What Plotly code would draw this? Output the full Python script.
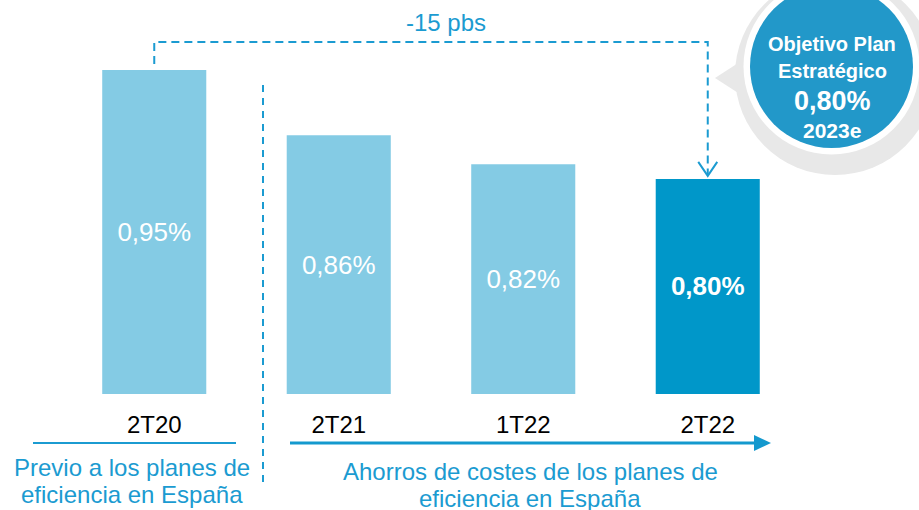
import plotly.graph_objects as go

# ---- data ----
categories = ["2T20", "2T21", "1T22", "2T22"]
values = [0.95, 0.86, 0.82, 0.80]
bar_colors = ["#84CBE4", "#84CBE4", "#84CBE4", "#0097C9"]
change_label = "-15 pbs"
group_left = ["Previo a los planes de", "eficiencia en España"]
group_right = ["Ahorros de costes de los planes de", "eficiencia en España"]
target_lines = ["Objetivo Plan", "Estratégico", "0,80%", "2023e"]

BASE = 0.504
W, H = 919, 510
ML, MR, MT, MB = 62, 119, 10, 116
PW, PH = W - ML - MR, H - MT - MB
Y_TOP = BASE + PH / 726.7

FONT = "Liberation Sans, Arial, sans-serif"
BLUE = "#1B9BD1"


def px(x):
    return (x - ML) / PW


def py(y):
    return (H - MB - y) / PH


def cat_paper(i):
    return (i + 0.5) / len(categories)


def val_paper(v):
    return (v - BASE) / (Y_TOP - BASE)


labels = []
for i, v in enumerate(values):
    s = f"{v:.2f}".replace(".", ",") + "%"
    labels.append(f"<b>{s}</b>" if i == len(values) - 1 else s)

fig = go.Figure()
fig.add_trace(go.Bar(
    x=list(range(len(categories))),
    y=[v - BASE for v in values],
    base=BASE,
    width=0.564,
    marker=dict(color=bar_colors, line=dict(width=0)),
    text=labels,
    textposition="inside",
    insidetextanchor="middle",
    textangle=0,
    textfont=dict(color="white", size=26, family=FONT),
    hoverinfo="skip",
))

shapes = []
# dashed connector from first bar to last bar
x0p, x3p = cat_paper(0), cat_paper(3)
y_line = py(42)
shapes.append(dict(
    type="path", xref="paper", yref="paper",
    path=f"M {x0p},{val_paper(values[0]) + 6 / PH} L {x0p},{y_line} L {x3p},{y_line} L {x3p},{val_paper(values[3]) + 4 / PH}",
    line=dict(color=BLUE, width=2, dash="8px,5px"),
))
# open arrowhead
tip = val_paper(values[3]) + 3 / PH
shapes.append(dict(
    type="path", xref="paper", yref="paper",
    path=f"M {x3p - 9.5 / PW},{tip + 14 / PH} L {x3p},{tip} L {x3p + 9.5 / PW},{tip + 14 / PH}",
    line=dict(color=BLUE, width=2),
))
# vertical separator
shapes.append(dict(
    type="line", xref="paper", yref="paper",
    x0=px(263), x1=px(263), y0=py(85), y1=py(482),
    line=dict(color=BLUE, width=2, dash="7px,6px"),
))
# left underline
shapes.append(dict(
    type="line", xref="paper", yref="paper",
    x0=px(33), x1=px(236), y0=py(443), y1=py(443),
    line=dict(color=BLUE, width=2),
))
# right arrow line
shapes.append(dict(
    type="line", xref="paper", yref="paper",
    x0=px(290), x1=px(757), y0=py(443), y1=py(443),
    line=dict(color="#1499CE", width=3),
))
shapes.append(dict(
    type="path", xref="paper", yref="paper",
    path=f"M {px(754)},{py(435)} L {px(771)},{py(443)} L {px(754)},{py(451)} Z",
    fillcolor="#1499CE", line=dict(width=0),
))
# target bubble: gray ring with pointer, white gap, blue disc
shapes.append(dict(
    type="circle", xref="paper", yref="paper",
    x0=px(735), x1=px(935), y0=py(175), y1=py(-25),
    fillcolor="#E8E8E8", line=dict(width=0),
))
shapes.append(dict(
    type="path", xref="paper", yref="paper",
    path=f"M {px(715)},{py(78)} L {px(746)},{py(58)} L {px(746)},{py(98)} Z",
    fillcolor="#E8E8E8", line=dict(width=0),
))
shapes.append(dict(
    type="circle", xref="paper", yref="paper",
    x0=px(831.5 - 88), x1=px(831.5 + 88), y0=py(66.5 + 88), y1=py(66.5 - 88),
    fillcolor="white", line=dict(width=0),
))
shapes.append(dict(
    type="circle", xref="paper", yref="paper",
    x0=px(831.5 - 81.5), x1=px(831.5 + 81.5), y0=py(66.5 + 81.5), y1=py(66.5 - 81.5),
    fillcolor="#2298C9", line=dict(width=0),
))

annotations = []


def ann(text, x, y, size, color, bold=False):
    annotations.append(dict(
        text=f"<b>{text}</b>" if bold else text,
        xref="paper", yref="paper", x=px(x), y=py(y),
        xanchor="center", yanchor="middle", showarrow=False,
        font=dict(family=FONT, size=size, color=color),
    ))


ann(change_label, 446, 22, 24, BLUE)
ann(group_left[0], 132, 467, 24, BLUE)
ann(group_left[1], 132, 494, 24, BLUE)
ann(group_right[0], 530, 471, 24, BLUE)
ann(group_right[1], 530, 498, 24, BLUE)
ann(target_lines[0], 832, 44, 20, "white", True)
ann(target_lines[1], 832, 71, 20, "white", True)
ann(target_lines[2], 832, 101, 27, "white", True)
ann(target_lines[3], 832, 130, 21, "white", True)

fig.update_layout(
    width=W, height=H,
    margin=dict(l=ML, r=MR, t=MT, b=MB, pad=0),
    paper_bgcolor="white", plot_bgcolor="white",
    showlegend=False,
    font=dict(family=FONT),
    xaxis=dict(
        range=[-0.5, len(categories) - 0.5],
        tickvals=list(range(len(categories))),
        ticktext=categories,
        tickfont=dict(size=24, color="black", family=FONT),
        showgrid=False, zeroline=False, showline=False, ticks="",
        ticklabelstandoff=14,
        fixedrange=True,
    ),
    yaxis=dict(
        range=[BASE, Y_TOP],
        visible=False, showgrid=False, zeroline=False,
        fixedrange=True,
    ),
    shapes=shapes,
    annotations=annotations,
)

fig.write_html(
    "out.html",
    config={"displayModeBar": False},
    post_script="document.body.style.margin='0';document.body.style.overflow='hidden';",
)
